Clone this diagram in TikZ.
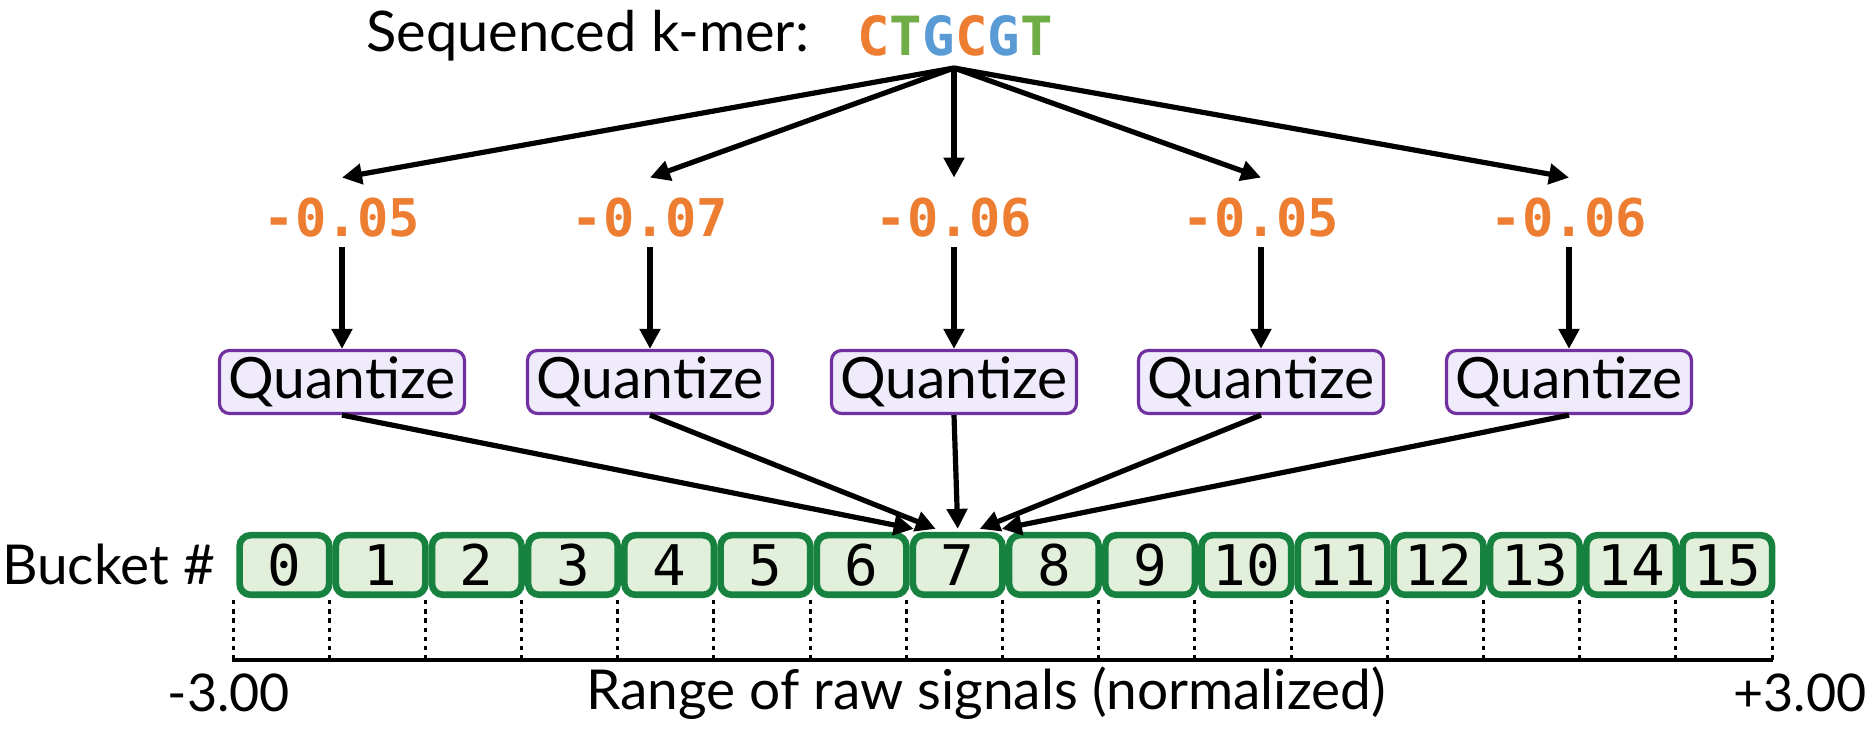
\documentclass[tikz,border=0pt]{standalone}
\usepackage{fontspec}
\setmainfont{Lato}
\newfontfamily\codefont{DejaVu Sans Mono}
\usetikzlibrary{arrows.meta}

\definecolor{kOrange}{HTML}{ED7D31}
\definecolor{kGreen}{HTML}{70AD47}
\definecolor{kBlue}{HTML}{5B9BD5}
\definecolor{qFill}{HTML}{EFEBFB}
\definecolor{qDraw}{HTML}{7030A0}
\definecolor{bFill}{HTML}{E2EFDA}
\definecolor{bDraw}{HTML}{17823F}

\begin{document}
\begin{tikzpicture}[x=0.5pt,y=-0.5pt,
  arr/.style={line width=2.6pt,-{Triangle[length=10pt,width=10pt]}},
  val/.style={font=\codefont\bfseries\fontsize{26}{30}\selectfont, text=kOrange,
    inner sep=0pt, text height=29.5pt, text depth=5pt, anchor=base},
  quant/.style={draw=qDraw, fill=qFill, line width=1.6pt, rounded corners=5pt,
    minimum width=122.5pt, minimum height=31.5pt, inner sep=0pt,
    font=\fontsize{28.5}{32}\selectfont},
  bucket/.style={draw=bDraw, fill=bFill, line width=3.3pt, rounded corners=5.5pt,
    minimum width=44.8pt, minimum height=29.8pt, inner sep=0pt, anchor=west,
    font=\codefont\fontsize{28}{32}\selectfont},
  lbl/.style={font=\fontsize{26}{30}\selectfont},
  guide/.style={line width=1.5pt, dash pattern=on 2.2pt off 2.4pt}
]
\useasboundingbox (0,0) rectangle (1874,731);

% header: the k-mer being looked up
\node[lbl, font=\fontsize{28}{32}\selectfont, anchor=east] (title) at (816,36) {Sequenced k-mer:};
\node[font=\codefont\bfseries\fontsize{27}{30}\selectfont, inner sep=0pt] (kmer) at (955,36)
  {\textcolor{kOrange}{C}\textcolor{kGreen}{T}\textcolor{kBlue}{G}\textcolor{kOrange}{C}\textcolor{kBlue}{G}\textcolor{kGreen}{T}};
\coordinate (src) at (954,68);

% expected signal values and their quantizers
\foreach \i/\x/\v in {1/342/-0.05, 2/650/-0.07, 3/954/-0.06, 4/1261/-0.05, 5/1569/-0.06}{
  \node[val] (v\i) at (\x,237) {\v};
  \node[quant] (q\i) at (\x,382) {Quantize};
  \draw[arr] (src) -- (v\i.north);
  \draw[arr] (v\i.south) -- (q\i.north);
}

% buckets
\foreach \i in {0,...,15}{
  \node[bucket] (b\i) at ({236.3+96.19*\i},565) {\i};
}

% all quantizers land in bucket 7
\draw[arr] (q1.south) -- ([xshift=-22pt,yshift=1.5pt]b7.north);
\draw[arr] (q2.south) -- ([xshift=-11pt,yshift=1.5pt]b7.north);
\draw[arr] (q3.south) -- ([yshift=1.5pt]b7.north);
\draw[arr] (q4.south) -- ([xshift=11pt,yshift=1.5pt]b7.north);
\draw[arr] (q5.south) -- ([xshift=22pt,yshift=1.5pt]b7.north);

\node[lbl, font=\fontsize{27.5}{32}\selectfont, anchor=east] (blabel) at (222,564) {Bucket \#};

% signal range axis
\foreach \k in {0,...,16}{
  \draw[guide] ({233+96.19*\k},600) -- ({233+96.19*\k},660);
}
\draw[line width=2.3pt] (232,660) -- (1773,660);
\node[lbl] (lo) at (229,693) {-3.00};
\node[lbl, font=\fontsize{27.5}{32}\selectfont] (range) at (986,693) {Range of raw signals (normalized)};
\node[lbl] (hi) at (1800,693) {+3.00};
\end{tikzpicture}
\end{document}
